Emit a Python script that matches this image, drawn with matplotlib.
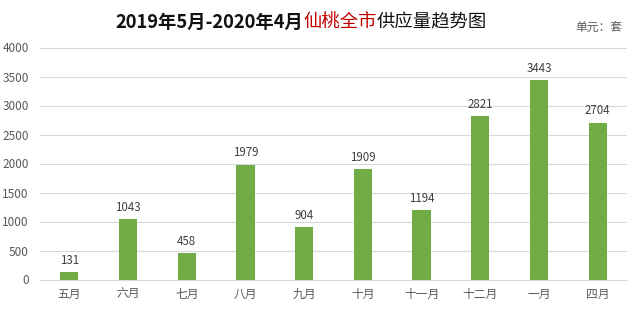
import matplotlib
matplotlib.use("Agg")
import matplotlib.pyplot as plt

categories = ["五月", "六月", "七月", "八月", "九月", "十月", "十一月", "十二月", "一月", "四月"]
values = [131, 1043, 458, 1979, 904, 1909, 1194, 2821, 3443, 2704]
yticks = [0, 500, 1000, 1500, 2000, 2500, 3000, 3500, 4000]

plt.rcParams['font.family'] = ['Noto Sans CJK SC', 'DejaVu Sans']

fig = plt.figure(figsize=(6.4, 3.32), dpi=100)
ax = fig.add_axes([40/640, 1-279.5/332, 587/640, 232/332])
x = range(len(categories))
ax.bar(x, values, width=0.31, color='#70AD47', zorder=3)
for xi, v in zip(x, values):
    ax.text(xi, v + 90, str(v), ha='center', va='bottom', fontsize=8.3, color='#404040')
ax.set_xlim(-0.5, len(categories) - 0.5)
ax.set_ylim(0, 4000)
ax.set_yticks(yticks)
ax.set_xticks(list(x))
ax.set_xticklabels(categories, fontsize=8.5, color='#595959')
ax.tick_params(axis='y', labelsize=8.5, labelcolor='#595959', length=0, pad=8)
ax.tick_params(axis='x', length=0, pad=6)
ax.grid(axis='y', color='#D9D9D9', linewidth=0.8, zorder=0)
for s in ['top', 'right', 'left']:
    ax.spines[s].set_visible(False)
ax.spines['bottom'].set_color('#D9D9D9')

# Title in three colored pieces
parts = [("2019年5月-2020年4月", '#111111', 'bold'), ("仙桃全市", '#C00000', 'medium'),
         ("供应量趋势图", '#111111', 'medium')]
renderer = fig.canvas.get_renderer()
texts = []
for s, c, w in parts:
    t = fig.text(0, 1-22/332, s, color=c, fontsize=13.2, fontweight=w, va='center', ha='left')
    texts.append(t)
widths = [t.get_window_extent(renderer).width for t in texts]
total = sum(widths)
start = 301 - total / 2
for t, w in zip(texts, widths):
    t.set_x(start / 640)
    start += w

fig.text(622/640, 1-28/332, "单元：套", fontsize=8.5, color='#595959', ha='right', va='center')

fig.savefig("out.png", dpi=100)
